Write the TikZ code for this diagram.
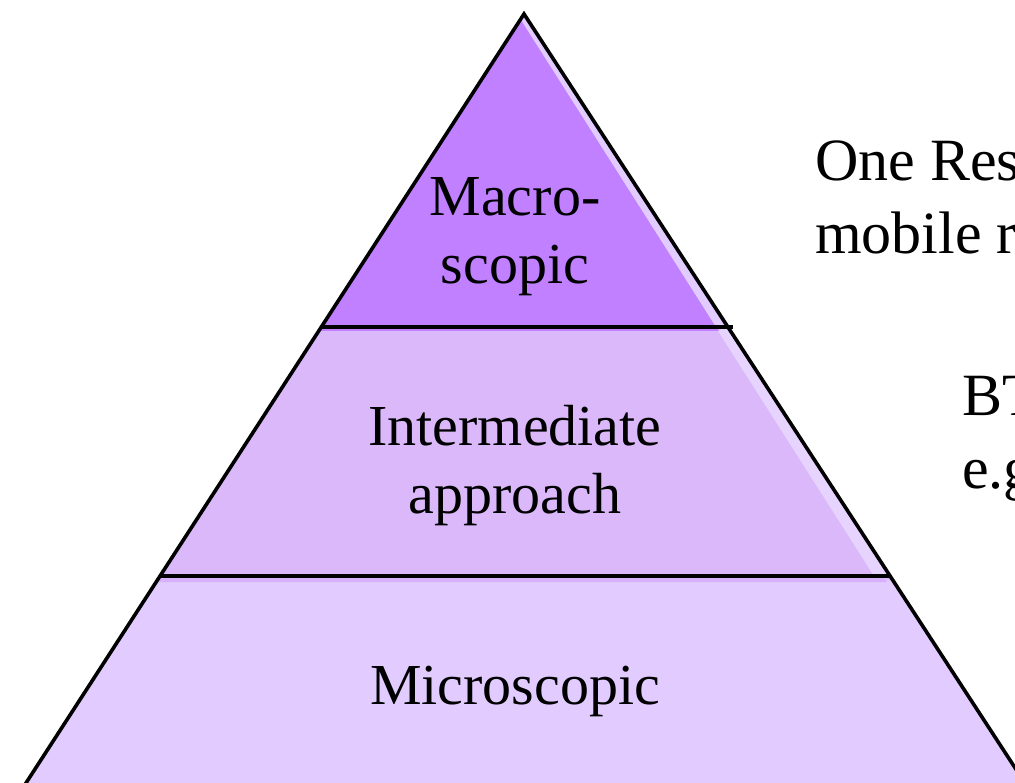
\documentclass[tikz,border=0pt]{standalone}
\usepackage{fontspec}
\setmainfont{Liberation Serif}
\begin{document}
\begin{tikzpicture}[x=1pt,y=-1pt,
  edge/.style={line width=3.6pt,line join=miter,black},
  tiertext/.style={font=\fontsize{58}{68}\selectfont,align=center,inner sep=0pt},
  sidetext/.style={font=\fontsize{60}{73}\selectfont,align=left,inner sep=0pt,anchor=west}]
\definecolor{tiertop}{HTML}{C080FF}
\definecolor{tiermid}{HTML}{DAB8FA}
\definecolor{tierlow}{HTML}{E2CCFF}
\definecolor{gloss}{HTML}{E2CCFF}
\definecolor{glossmid}{HTML}{E6D4FF}
\useasboundingbox (0,0) rectangle (1015,783);
\clip (0,0) rectangle (1015,783);
% corner points of the pyramid
\coordinate (apex) at (524,14);
\coordinate (l1) at (321,327);
\coordinate (r1) at (728,327);
\coordinate (r1x) at (733,327);
\coordinate (l2) at (160,576);
\coordinate (r2) at (890,576);
\coordinate (lb) at (15,800);
\coordinate (rb) at (1036,800);
% tier fills, bottom first
\fill[tierlow] (l2) -- (r2) -- (rb) -- (lb) -- cycle;
\fill[tiermid] (l1) -- (r1) -- (893,580) -- (158,580) -- cycle;
\fill[tiermid!85!tiertop] (158,578) -- (884,578) -- (887,582) -- (156,582) -- cycle;
\fill[tiertop] (apex) -- (731,331) -- (318,331) -- cycle;
% light band along the right flank
\fill[gloss] (apex) -- (r1) -- (716,327) -- (521,20) -- cycle;
\fill[gloss] (716,327) -- (731,331) -- (720,331) -- cycle;
\fill[glossmid] (r1) -- (r2) -- (874,576) -- (718,331) -- cycle;
% outline and tier borders
\draw[edge] (lb) -- (apex) -- (rb);
\draw[edge] (l1) -- (r1x);
\draw[edge] (l2) -- (r2);
% labels
\node[tiertext] (macro) at (515,237) {Macro-\\scopic};
\node[tiertext] (inter) at (515,466) {Intermediate\\approach};
\node[tiertext] (micro) at (515,691) {Microscopic};
\node[sidetext] (res) at (815,197) {One Res\\mobile r};
\node[sidetext] (bt) at (962,439) {BT\\e.g};
\end{tikzpicture}
\end{document}
